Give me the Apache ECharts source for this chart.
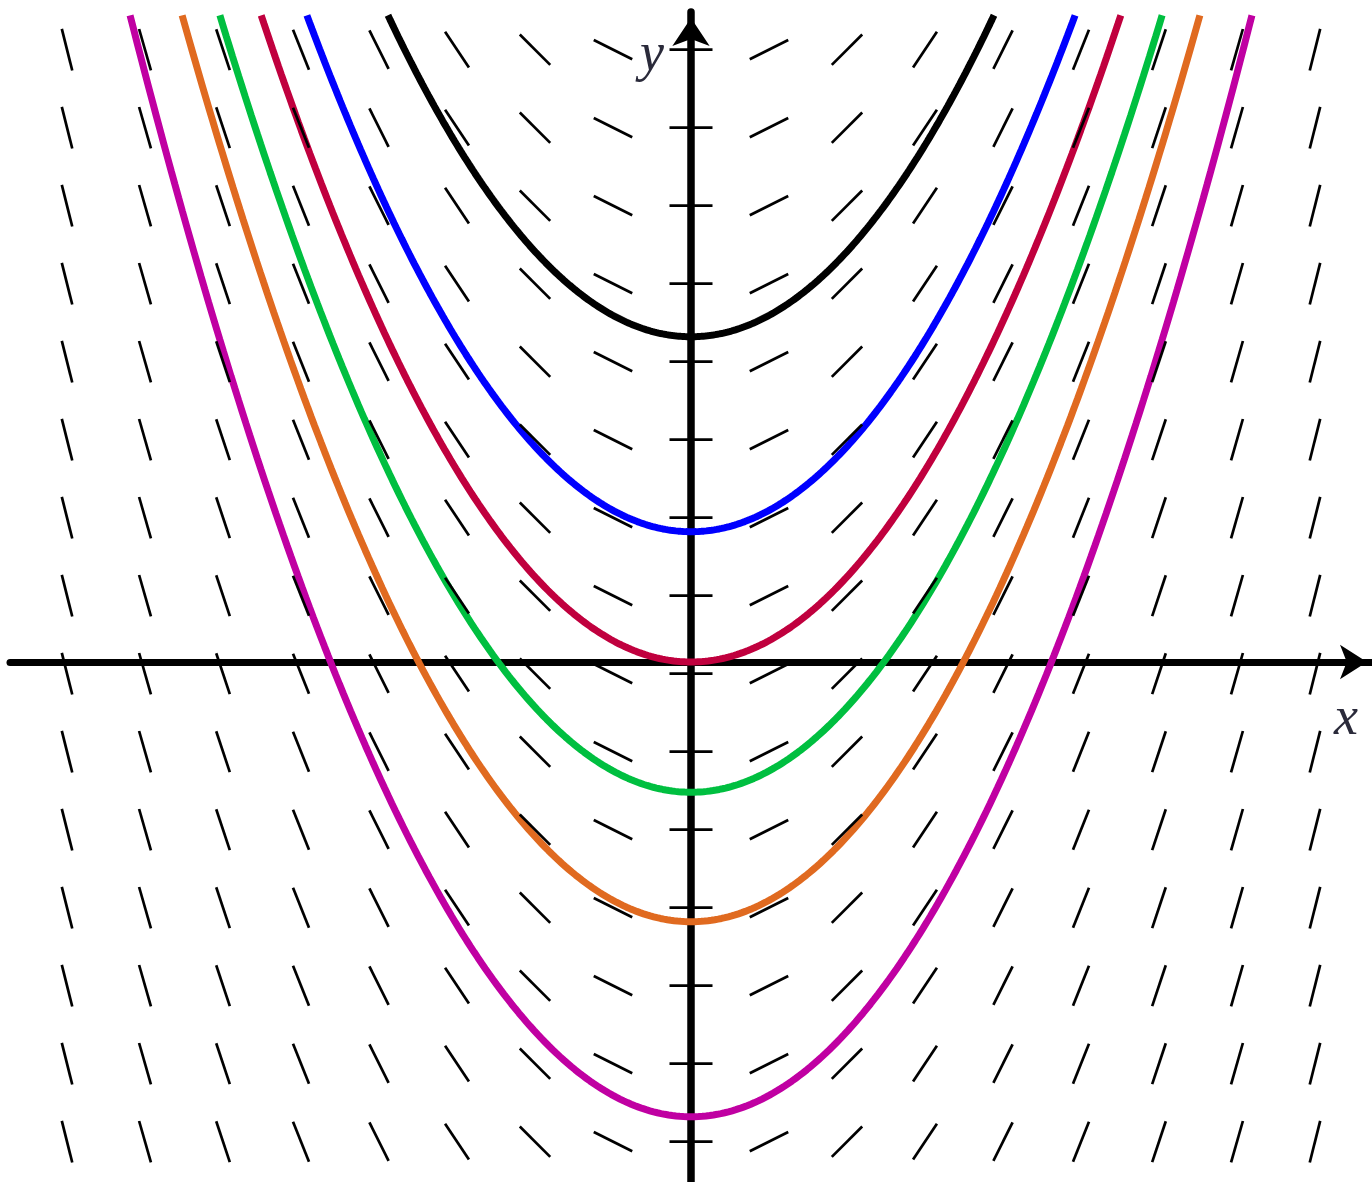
<!DOCTYPE html>
<html>
<head>
<meta charset="utf-8">
<title>Slope field and solution curves</title>
<script src="https://cdn.jsdelivr.net/npm/echarts@6/dist/echarts.min.js"></script>
<style>
  html, body { margin: 0; padding: 0; background: #fff; }
  #chart { width: 1372px; height: 1182px; }
</style>
</head>
<body>
<div id="chart"></div>
<script>
// Slope field grid: column positions (x), row positions (y)
const fieldColumns = [-8, -7, -6, -5, -4, -3, -2, -1, 0, 1, 2, 3, 4, 5, 6, 7, 8];
const fieldRows = [7.85, 6.85, 5.85, 4.85, 3.85, 2.85, 1.85, 0.85, -0.15, -1.15, -2.15, -3.15, -4.15, -5.15, -6.15];
// slope of the field in each column (same order as fieldColumns)
const fieldSlopes = [-4, -3.5, -3, -2.5, -2, -1.5, -1, -0.5, 0, 0.5, 1, 1.5, 2, 2.5, 3, 3.5, 4];

// Solution curves y = a*x^2 + C : vertical offsets C, shared coefficient a
const curveOffsets = [4.17, 1.67, 0, -1.67, -3.33, -5.83];
const curveCoefficient = 0.273;
const curveTop = 8.29;

// axis extents
const xRange = [-8.731, 8.731];
const yRange = [-6.667, 8.333];

const curveColors = ['#000000', '#0000ff', '#c0003e', '#00bf40', '#e06a20', '#c000a2'];

const fieldData = [];
fieldColumns.forEach(function (x, i) {
  fieldRows.forEach(function (y) {
    fieldData.push([x, y, fieldSlopes[i]]);
  });
});

function curvePoints(c) {
  const xEnd = Math.sqrt((curveTop - c) / curveCoefficient);
  const n = 300;
  const pts = [];
  for (let k = 0; k <= n; k++) {
    const x = -xEnd + (2 * xEnd * k) / n;
    pts.push([x, curveCoefficient * x * x + c]);
  }
  return pts;
}

const chart = echarts.init(document.getElementById('chart'), null, { renderer: 'canvas' });

const series = curveOffsets.map(function (c, idx) {
  return {
    type: 'line',
    data: curvePoints(c),
    showSymbol: false,
    smooth: false,
    clip: true,
    z: 3,
    lineStyle: { color: curveColors[idx], width: 7 },
    silent: true,
    animation: false
  };
});

series.push({
  type: 'custom',
  data: fieldData,
  encode: { x: 0, y: 1 },
  z: 4,
  silent: true,
  animation: false,
  renderItem: function (params, api) {
    const x = api.value(0), y = api.value(1), s = api.value(2);
    const c = api.coord([x, y]);
    const unit = api.size([1, 1]);
    let dx = unit[0], dy = -s * unit[1];
    const len = Math.hypot(dx, dy);
    const half = 21.5;
    dx = dx / len * half;
    dy = dy / len * half;
    return {
      type: 'line',
      shape: { x1: c[0] - dx, y1: c[1] - dy, x2: c[0] + dx, y2: c[1] + dy },
      style: { stroke: '#000', lineWidth: 2.7 }
    };
  }
});

chart.setOption({
  backgroundColor: '#ffffff',
  animation: false,
  grid: { left: 10, right: 0, top: 12, bottom: 0, containLabel: false },
  xAxis: {
    type: 'value',
    min: xRange[0],
    max: xRange[1],
    axisLine: {
      onZero: true,
      lineStyle: { color: '#000', width: 7 },
      symbol: ['none', 'arrow'],
      symbolSize: [26, 27],
      symbolOffset: [0, -5]
    },
    axisTick: { show: false },
    axisLabel: { show: false },
    splitLine: { show: false }
  },
  yAxis: {
    type: 'value',
    min: yRange[0],
    max: yRange[1],
    axisLine: {
      onZero: true,
      lineStyle: { color: '#000', width: 7.5 },
      symbol: ['none', 'arrow'],
      symbolSize: [28, 28],
      symbolOffset: [0, -6]
    },
    axisTick: { show: false },
    axisLabel: { show: false },
    splitLine: { show: false }
  },
  graphic: [
    {
      type: 'text',
      left: 640,
      top: 29,
      z: 10,
      style: {
        text: 'y',
        font: 'italic 54px "Liberation Serif", serif',
        fill: '#2a2a3a'
      }
    },
    {
      type: 'text',
      left: 1334,
      top: 693,
      z: 10,
      style: {
        text: 'x',
        font: 'italic 54px "Liberation Serif", serif',
        fill: '#2a2a3a'
      }
    }
  ],
  series: series
});
</script>
</body>
</html>
